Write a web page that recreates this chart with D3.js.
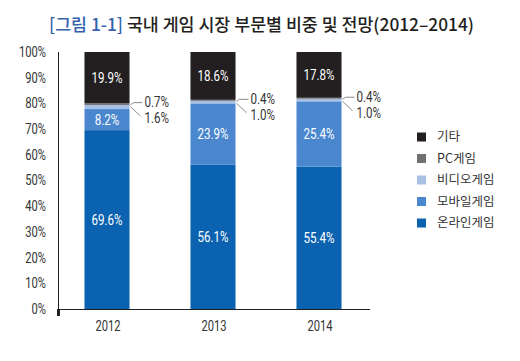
<!DOCTYPE html>
<html>
<head>
<meta charset="utf-8">
<script src="https://cdn.jsdelivr.net/npm/d3@7"></script>
<style>
  html, body { margin: 0; padding: 0; background: #fff; }
  svg { display: block; }
  .num { font-family: "Roboto", "DejaVu Sans Condensed", sans-serif; }
  .kr { font-family: "Noto Sans CJK KR", "Noto Sans", sans-serif; }
</style>
</head>
<body>
<svg id="chart" width="520" height="361"></svg>
<script>
// ---- data ----
const years = ["2012", "2013", "2014"];
const online = [69.6, 56.1, 55.4];   // 온라인게임
const mobile = [8.2, 23.9, 25.4];    // 모바일게임
const video  = [1.6, 1.0, 1.0];      // 비디오게임
const pc     = [0.7, 0.4, 0.4];      // PC게임
const etc    = [19.9, 18.6, 17.8];   // 기타
const seriesKeys  = ["online", "mobile", "video", "pc", "etc"];
const seriesNames = ["온라인게임", "모바일게임", "비디오게임", "PC게임", "기타"];
const seriesColors = ["#0b62b0", "#4a87cf", "#a9c0e5", "#6f7072", "#231f20"];
const yTicks = [0, 10, 20, 30, 40, 50, 60, 70, 80, 90, 100];
const titlePrefix = "[그림 1-1]";
const titleRest = " 국내 게임 시장 부문별 비중 및 전망(2012–2014)";

// table for the stack
const table = years.map((yr, i) => ({
  year: yr, online: online[i], mobile: mobile[i], video: video[i], pc: pc[i], etc: etc[i]
}));

const svg = d3.select("#chart");

const x = d3.scaleBand().domain(years).range([54, 372]).paddingInner(0.575).paddingOuter(0.2875);
const y = d3.scaleLinear().domain([0, 100]).range([309, 52]);

const stack = d3.stack().keys(seriesKeys);
const layers = stack(table);

// bars
const g = svg.append("g");
layers.forEach((layer, li) => {
  g.selectAll(null).data(layer).enter().append("rect")
    .attr("x", d => x(d.data.year))
    .attr("width", x.bandwidth())
    .attr("y", d => y(d[1]))
    .attr("height", d => y(d[0]) - y(d[1]))
    .attr("fill", seriesColors[li]);
});

// labels inside bars (online, mobile, etc)
[0, 1, 4].forEach(li => {
  g.selectAll(null).data(layers[li]).enter().append("text")
    .attr("class", "num")
    .attr("x", d => x(d.data.year) + x.bandwidth() / 2)
    .attr("y", d => (y(d[0]) + y(d[1])) / 2)
    .attr("dy", "0.35em")
    .attr("text-anchor", "middle")
    .attr("fill", "#fff")
    .attr("font-size", 14.5)
    .text(d => (d[1] - d[0]).toFixed(1) + "%");
});

// callouts for PC (upper) and video (lower)
const pcLayer = layers[3];
pcLayer.forEach((d, i) => {
  const xr = x(d.data.year) + x.bandwidth();
  const top = y(d[1]);
  g.append("path")
    .attr("d", `M${xr + 1},${top + 1.5} L${xr + 4},${top - 0.5} L${xr + 13},${top - 0.5}`)
    .attr("fill", "none").attr("stroke", "#8a8a8a").attr("stroke-width", 1);
  g.append("path")
    .attr("d", `M${xr + 1},${top + 3.5} L${xr + 11},${top + 13}`)
    .attr("fill", "none").attr("stroke", "#8a8a8a").attr("stroke-width", 1);
  g.append("text").attr("class", "num")
    .attr("x", xr + 15).attr("y", top - 1).attr("dy", "0.35em")
    .attr("font-size", 14.5).attr("fill", "#333")
    .text(pc[i].toFixed(1) + "%");
  g.append("text").attr("class", "num")
    .attr("x", xr + 15).attr("y", top + 15).attr("dy", "0.35em")
    .attr("font-size", 14.5).attr("fill", "#333")
    .text(video[i].toFixed(1) + "%");
});

// axes
const axisColor = "#231f20";
svg.append("line").attr("x1", 58.5).attr("x2", 58.5).attr("y1", y(100)).attr("y2", 309)
  .attr("stroke", axisColor).attr("stroke-width", 1);
svg.append("line").attr("x1", 58).attr("x2", 370).attr("y1", 309.5).attr("y2", 309.5)
  .attr("stroke", axisColor).attr("stroke-width", 1);
svg.append("rect").attr("x", 57).attr("y", 309).attr("width", 3).attr("height", 7).attr("fill", axisColor);

svg.append("g").selectAll("text").data(yTicks).enter().append("text")
  .attr("class", "num")
  .attr("x", 46)
  .attr("y", d => y(d))
  .attr("dy", "0.35em")
  .attr("text-anchor", "end")
  .attr("font-size", 14)
  .attr("fill", "#333")
  .text(d => d + "%");

svg.append("g").selectAll("text").data(years).enter().append("text")
  .attr("class", "num")
  .attr("x", d => x(d) + x.bandwidth() / 2 + 1)
  .attr("y", 326)
  .attr("dy", "0.35em")
  .attr("text-anchor", "middle")
  .attr("font-size", 14)
  .attr("fill", "#333")
  .text(d => d);

// condensed look for numeric text
svg.selectAll("text.num").each(function () {
  const w = this.getComputedTextLength();
  d3.select(this).attr("textLength", w * 0.8).attr("lengthAdjust", "spacingAndGlyphs");
});

// legend (top to bottom: 기타, PC, 비디오, 모바일, 온라인)
const legendOrder = [4, 3, 2, 1, 0];
const lg = svg.append("g");
legendOrder.forEach((si, k) => {
  const cy = 137 + k * 21.5;
  lg.append("rect").attr("x", 417).attr("y", cy - 4.5).attr("width", 9).attr("height", 9)
    .attr("fill", seriesColors[si]);
  lg.append("text").attr("class", "kr")
    .attr("x", 437).attr("y", cy).attr("dy", "0.35em")
    .attr("font-size", 12.5).attr("fill", "#333")
    .text(seriesNames[si]);
});

// title
const t = svg.append("text").attr("class", "kr")
  .attr("x", 49).attr("y", 31)
  .attr("font-size", 17.5).attr("font-weight", 500)
  .attr("textLength", 425).attr("lengthAdjust", "spacingAndGlyphs");
t.append("tspan").attr("fill", "#3462ad").text(titlePrefix);
t.append("tspan").attr("fill", "#231f20").text(titleRest);
</script>
</body>
</html>
